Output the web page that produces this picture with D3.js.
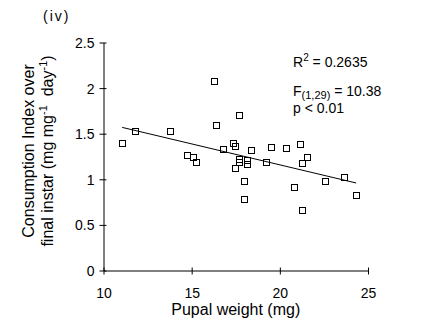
<!DOCTYPE html>
<html>
<head>
<meta charset="utf-8">
<script src="https://cdn.jsdelivr.net/npm/d3@7"></script>
<style>
  body { margin: 0; background: #fff; }
  text { font-family: Arial, "Liberation Sans", sans-serif; fill: #000; }
</style>
</head>
<body>
<div id="ci_plot"></div>
<script>
/* Consumption index vs pupal weight, panel (iv) */

// pupal weight (mg) and consumption index per larva
var pupalWeight = [11.06, 11.80, 13.78, 14.76, 15.10, 15.27, 16.27, 16.38, 16.80, 17.36,
  17.47, 17.47, 17.70, 17.70, 17.70, 17.98, 17.98, 18.15, 18.15, 18.38,
  19.27, 19.55, 20.35, 20.85, 21.16, 21.27, 21.27, 21.55, 22.57, 23.65, 24.33];
var consIndex = [1.388, 1.52, 1.52, 1.256, 1.234, 1.179, 2.077, 1.586, 1.322, 1.388,
  1.355, 1.113, 1.696, 1.216, 1.187, 0.981, 0.777, 1.209, 1.165, 1.311,
  1.179, 1.344, 1.333, 0.915, 1.377, 1.168, 0.663, 1.234, 0.981, 1.025, 0.827];
var xTicks = [10, 15, 20, 25];
var yTicks = [0, 0.5, 1, 1.5, 2, 2.5];

var W = 422, H = 330;
var margin = {top: 42.5, right: 54, bottom: 59.5, left: 103.5},
w = W - margin.left - margin.right,
h = H - margin.top - margin.bottom;

var svg = d3.select("#ci_plot")
.append("svg")
.attr("width", W)
.attr("height", H);

var g = svg.append("g")
.attr("transform", `translate(${margin.left},${margin.top})`);

var xScale = d3.scaleLinear().domain([10, 25]).range([0, w]);
var yScale = d3.scaleLinear().domain([0, 2.5]).range([h, 0]);

// axes: ticks cross the axis line
var xAxis = g.append("g")
.attr("transform", "translate(0," + h + ")")
.call(d3.axisBottom(xScale).tickValues(xTicks).tickSize(4).tickPadding(14).tickSizeOuter(0));
xAxis.selectAll(".tick line").attr("y1", -3);

var yAxis = g.append("g")
.call(d3.axisLeft(yScale).tickValues(yTicks).tickSize(4).tickPadding(5)
  .tickFormat(d3.format("")).tickSizeOuter(0));
yAxis.selectAll(".tick line").attr("x1", 3);

g.selectAll(".domain").attr("stroke", "#000").attr("stroke-width", 1);
g.selectAll(".tick line").attr("stroke", "#000");
g.selectAll(".tick text")
.attr("font-size", "14px")
.style("font-family", "Arial, 'Liberation Sans', sans-serif");
yAxis.selectAll(".tick text").attr("dy", "0.36em");

// least squares line over the range of the data
var pts = pupalWeight.map(function(d, i){ return [d, consIndex[i]]; });
var mx = d3.mean(pupalWeight), my = d3.mean(consIndex);
var sxy = d3.sum(pts, function(p){ return (p[0]-mx)*(p[1]-my); });
var sxx = d3.sum(pupalWeight, function(x){ return (x-mx)*(x-mx); });
var slope = sxy / sxx, icept = my - slope * mx;
var xr = d3.extent(pupalWeight);

g.append("line")
.attr("x1", xScale(xr[0])).attr("y1", yScale(icept + slope*xr[0]))
.attr("x2", xScale(xr[1])).attr("y2", yScale(icept + slope*xr[1]))
.attr("stroke", "#000").attr("stroke-width", 1);

// open square markers
var sq = 6;
g.selectAll("rect.pt")
.data(pts).enter()
.append("rect")
.attr("class", "pt")
.attr("x", function(d){ return Math.round(xScale(d[0]) - sq/2); })
.attr("y", function(d){ return Math.round(yScale(d[1]) - sq/2); })
.attr("width", sq).attr("height", sq)
.attr("fill", "none")
.attr("stroke", "#000")
.attr("stroke-width", 1);

// panel label
svg.append("text").attr("x", 43).attr("y", 21).attr("font-size", "14px")
.attr("letter-spacing", "2px").text("(iv)");

// axis titles
svg.append("text")
.attr("x", margin.left + w/2).attr("y", 315)
.attr("text-anchor", "middle").attr("font-size", "16px")
.text("Pupal weight (mg)");

var yt = svg.append("text")
.attr("transform", "translate(0,151) rotate(-90)")
.attr("text-anchor", "middle").attr("font-size", "16px");
yt.append("tspan").attr("x", 0).attr("y", 34).text("Consumption Index over");
var l2 = yt.append("tspan").attr("x", 0).attr("y", 53);
l2.append("tspan").text("final instar (mg mg");
l2.append("tspan").attr("font-size", "11px").attr("dy", -6).text("-1");
l2.append("tspan").attr("dy", 6).text("\u00a0 day");
l2.append("tspan").attr("font-size", "11px").attr("dy", -6).text("-1");
l2.append("tspan").attr("dy", 6).text(")");

// fit statistics
var stats = svg.append("g").attr("font-size", "14px");
var r2 = stats.append("text").attr("x", 293).attr("y", 66.5);
r2.append("tspan").text("R");
r2.append("tspan").attr("font-size", "10px").attr("dy", -6).text("2");
r2.append("tspan").attr("dy", 6).text(" = 0.2635");

var ft = stats.append("text").attr("x", 293).attr("y", 95.5);
ft.append("tspan").text("F");
ft.append("tspan").attr("font-size", "11px").attr("dy", 3).text("(1,29)");
ft.append("tspan").attr("dy", -3).text(" = 10.38");

stats.append("text").attr("x", 293).attr("y", 113).text("p < 0.01");
</script>
</body>
</html>
